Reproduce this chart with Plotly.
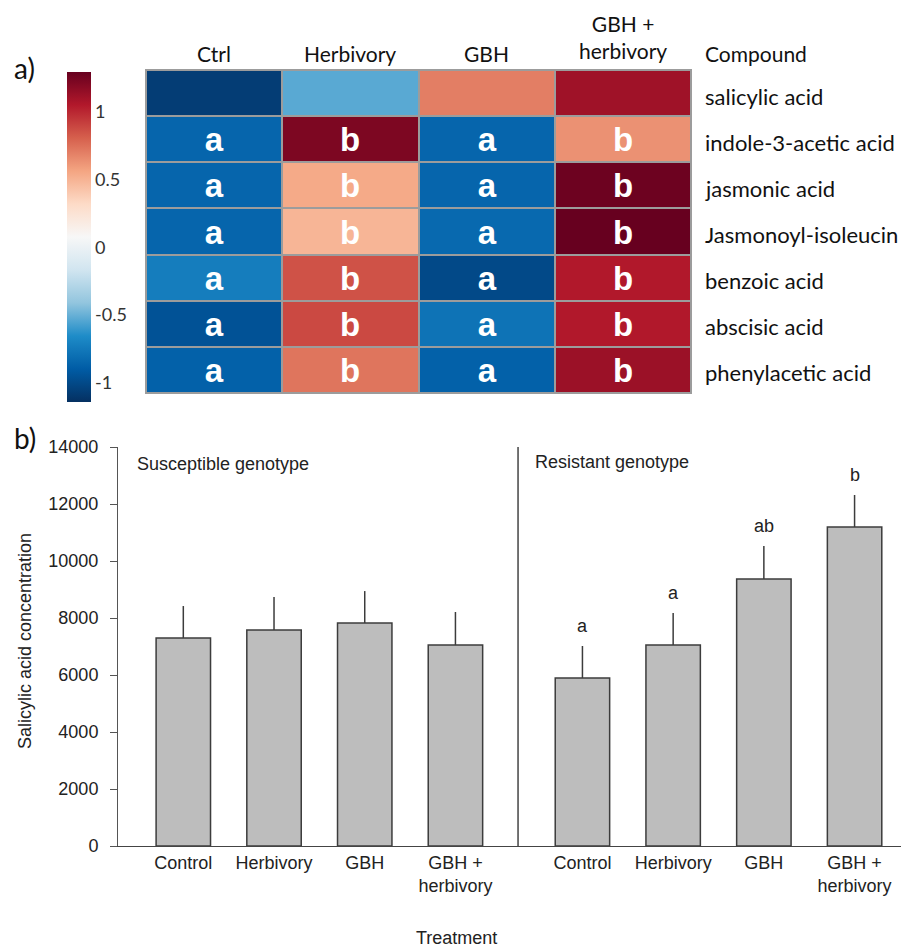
import plotly.graph_objects as go

# ---------------- data: panel a (heatmap) ----------------
compounds = ["salicylic acid", "indole-3-acetic acid", "jasmonic acid",
             "Jasmonoyl-isoleucin", "benzoic acid", "abscisic acid",
             "phenylacetic acid"]
heat_treatments = ["Ctrl", "Herbivory", "GBH", "GBH + herbivory"]
heat_labels = ["Ctrl", "Herbivory", "GBH", "GBH +<br>herbivory"]
z_values = [
    [-1.07, -0.53, 0.70, 1.11],
    [-0.85, 1.22, -0.85, 0.63],
    [-0.85, 0.54, -0.85, 1.27],
    [-0.85, 0.49, -0.83, 1.29],
    [-0.73, 0.85, -1.00, 1.05],
    [-0.95, 0.88, -0.78, 1.05],
    [-0.87, 0.73, -0.87, 1.12],
]
cell_letters = [
    ["", "", "", ""],
    ["a", "b", "a", "b"],
    ["a", "b", "a", "b"],
    ["a", "b", "a", "b"],
    ["a", "b", "a", "b"],
    ["a", "b", "a", "b"],
    ["a", "b", "a", "b"],
]
cbar_ticks = [1, 0.5, 0, -0.5, -1]
cbar_ticktext = ["1", "0.5", "0", "-0.5", "-1"]

# ---------------- data: panel b (bars) ----------------
bar_treatments = ["Control", "Herbivory", "GBH", "GBH +<br>herbivory"]
sus_mean = [7300, 7580, 7825, 7050]
sus_err = [1120, 1160, 1120, 1160]
res_mean = [5895, 7052, 9368, 11193]
res_err = [1123, 1123, 1158, 1123]
res_letters = ["a", "a", "ab", "b"]
y_ticks = [0, 2000, 4000, 6000, 8000, 10000, 12000, 14000]

# page body has an 8px margin; size the figure to the remaining viewport
OFF = 8
W, H = 909 - OFF, 949 - OFF
def px_x(p): return (p - OFF) / W
def px_y(p): return 1 - (p - OFF) / H

rdbu = ["rgb(5,48,97)", "rgb(0,92,165)", "rgb(30,140,200)", "rgb(146,197,222)",
        "rgb(209,229,240)", "rgb(247,247,247)", "rgb(253,219,199)",
        "rgb(244,165,130)", "rgb(214,96,77)", "rgb(178,24,43)", "rgb(103,0,31)"]
cs = [[i / (len(rdbu) - 1), c] for i, c in enumerate(rdbu)]

fig = go.Figure()

fig.add_trace(go.Heatmap(
    z=z_values, x=heat_treatments, y=compounds, xaxis="x", yaxis="y",
    colorscale=cs, zmin=-1.14, zmax=1.29, xgap=2, ygap=2,
    text=cell_letters, texttemplate="%{text}",
    textfont=dict(family="Liberation Sans", size=33, color="white", weight="bold"),
    hoverinfo="skip",
    colorbar=dict(x=px_x(67), xanchor="left", xpad=0, ypad=0,
                  y=px_y(237), yanchor="middle", len=330, lenmode="pixels",
                  thickness=24, outlinewidth=0, ticks="",
                  tickvals=cbar_ticks, ticktext=cbar_ticktext,
                  tickfont=dict(family="Lato", size=18, color="#333")),
))

sus_x = [i for i in range(len(bar_treatments))]
res_x = [i + 4.4 for i in range(len(bar_treatments))]

bar_style = dict(marker=dict(color="#bdbdbd", line=dict(color="#3c3c3c", width=1.5)),
                 width=0.6, xaxis="x2", yaxis="y2", showlegend=False, hoverinfo="skip")
fig.add_trace(go.Bar(x=sus_x, y=sus_mean,
                     error_y=dict(type="data", array=sus_err, arrayminus=[0] * 4,
                                  symmetric=False, color="#3c3c3c", thickness=1.5, width=0),
                     **bar_style))
fig.add_trace(go.Bar(x=res_x, y=res_mean,
                     error_y=dict(type="data", array=res_err, arrayminus=[0] * 4,
                                  symmetric=False, color="#3c3c3c", thickness=1.5, width=0),
                     **bar_style))

annotations = []
calibri = "Lato"
for t, lab in zip(heat_treatments, heat_labels):
    two = "<br>" in lab
    annotations.append(dict(x=t, xref="x", y=px_y(37.5 if two else 53), yref="paper",
                            text=lab, showarrow=False, xanchor="center", yanchor="middle",
                            font=dict(family=calibri, size=21, color="#111")))
annotations.append(dict(x=px_x(703), xref="paper", y=px_y(53), yref="paper", text="Compound",
                        showarrow=False, xanchor="left", yanchor="middle",
                        font=dict(family=calibri, size=21, color="#111")))
for c in compounds:
    annotations.append(dict(x=px_x(703), xref="paper", y=c, yref="y", text=c, yshift=-3,
                            showarrow=False, xanchor="left", yanchor="middle",
                            font=dict(family=calibri, size=22, color="#111")))
annotations.append(dict(x=px_x(12), xref="paper", y=px_y(68), yref="paper", text="a)",
                        showarrow=False, xanchor="left", yanchor="middle",
                        font=dict(family=calibri, size=28, color="#111")))
annotations.append(dict(x=px_x(12), xref="paper", y=px_y(438), yref="paper", text="b)",
                        showarrow=False, xanchor="left", yanchor="middle",
                        font=dict(family=calibri, size=28, color="#111")))

arial = "Liberation Sans"
annotations.append(dict(x=px_x(135), xref="paper", y=px_y(464), yref="paper",
                        text="Susceptible genotype", showarrow=False, xanchor="left",
                        yanchor="middle", font=dict(family=arial, size=18, color="#222")))
annotations.append(dict(x=px_x(533), xref="paper", y=px_y(462), yref="paper",
                        text="Resistant genotype", showarrow=False, xanchor="left",
                        yanchor="middle", font=dict(family=arial, size=18, color="#222")))
for xv, m, e, l in zip(res_x, res_mean, res_err, res_letters):
    annotations.append(dict(x=xv, xref="x2", y=m + e, yref="y2", text=l, showarrow=False,
                            xanchor="center", yanchor="bottom", yshift=8,
                            font=dict(family=arial, size=18, color="#222")))
annotations.append(dict(x=px_x(25), xref="paper", y=px_y(641), yref="paper",
                        text="Salicylic acid concentration", textangle=-90, showarrow=False,
                        xanchor="center", yanchor="middle",
                        font=dict(family=arial, size=18, color="#222")))
annotations.append(dict(x=px_x(456), xref="paper", y=px_y(938), yref="paper",
                        text="Treatment", showarrow=False, xanchor="center", yanchor="middle",
                        font=dict(family=arial, size=18, color="#222")))

shapes = [
    dict(type="rect", xref="x domain", yref="y domain", x0=0, x1=1, y0=0, y1=1,
         fillcolor="#9c9c9c", line=dict(color="#9c9c9c", width=2), layer="below"),
    dict(type="line", xref="x2", yref="y2", x0=3.69, x1=3.69, y0=0, y1=14000,
         line=dict(color="#444", width=1.5)),
]

fig.update_layout(
    width=W, height=H, margin=dict(l=0, r=0, t=0, b=0, pad=0, autoexpand=False),
    paper_bgcolor="white", plot_bgcolor="white", showlegend=False,
    xaxis=dict(domain=[px_x(146), px_x(691)], anchor="y", showticklabels=False,
               showgrid=False, zeroline=False, ticks="", automargin=False),
    yaxis=dict(domain=[px_y(393), px_y(70)], anchor="x", autorange="reversed",
               showticklabels=False, showgrid=False, zeroline=False, ticks="",
               automargin=False),
    xaxis2=dict(domain=[px_x(118), 1.0], anchor="y2", range=[-0.72, 8.0],
                tickvals=sus_x + res_x, ticktext=bar_treatments + bar_treatments,
                ticks="", showline=True, linecolor="#444", linewidth=1.2,
                showgrid=False, zeroline=False, automargin=False,
                tickfont=dict(family=arial, size=18, color="#222")),
    yaxis2=dict(domain=[px_y(846), px_y(447)], anchor="x2", range=[0, 14000],
                tickvals=y_ticks, tickformat="d", ticks="outside", ticklen=7,
                tickcolor="#555", showline=True, linecolor="#555", linewidth=1,
                showgrid=False, zeroline=False, automargin=False,
                ticklabelstandoff=8,
                tickfont=dict(family=arial, size=18, color="#222")),
    annotations=annotations, shapes=shapes,
)

fig.write_html("out.html")
